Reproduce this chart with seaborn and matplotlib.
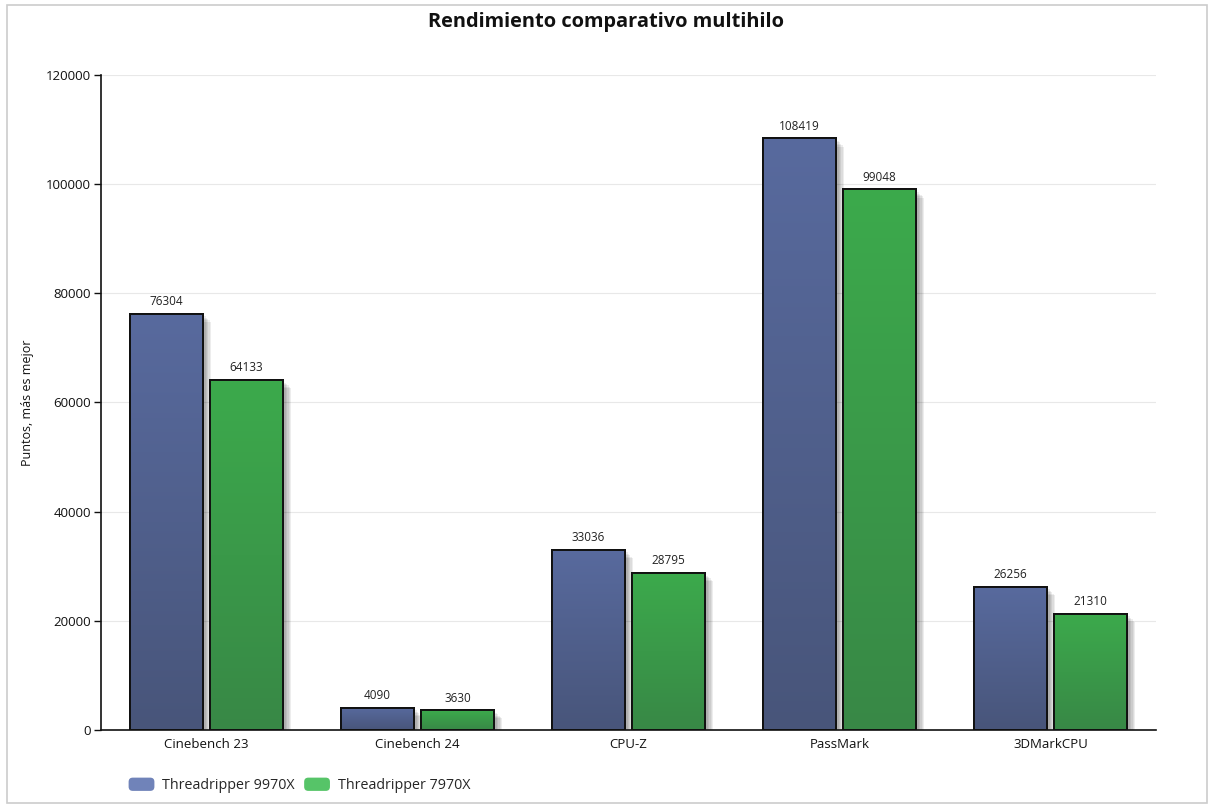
import numpy as np
import pandas as pd
import seaborn as sns
import matplotlib.pyplot as plt
import matplotlib.patheffects as pe
from matplotlib.colors import LinearSegmentedColormap
from matplotlib.patches import Rectangle, FancyBboxPatch
from matplotlib.legend_handler import HandlerPatch

# data
benchmarks = ["Cinebench 23", "Cinebench 24", "CPU-Z", "PassMark", "3DMarkCPU"]
tr_9970x = [76304, 4090, 33036, 108419, 26256]
tr_7970x = [64133, 3630, 28795, 99048, 21310]
series = ["Threadripper 9970X", "Threadripper 7970X"]
y_ticks = [0, 20000, 40000, 60000, 80000, 100000, 120000]

bar_colors = ["#52639a", "#3b9c4a"]
# (top, bottom) shade of each series
gradients = [("#586a9e", "#48557a"), ("#3caa4c", "#388846")]
legend_colors = ["#7083b9", "#56c468"]

df = pd.DataFrame({
    "benchmark": benchmarks * 2,
    "cpu": [series[0]] * len(benchmarks) + [series[1]] * len(benchmarks),
    "score": tr_9970x + tr_7970x,
})

sns.set_theme(style="white")
plt.rcParams['font.family'] = ['Open Sans', 'DejaVu Sans']

fig = plt.figure(figsize=(12.11, 8.10), dpi=100)
ax = fig.add_axes([0.0834, 0.0988, 0.8712, 0.8086])

sns.barplot(data=df, x="benchmark", y="score", hue="cpu", order=benchmarks,
            hue_order=series, palette=bar_colors, width=0.76, gap=0.09,
            edgecolor="#111111", linewidth=1.4, ax=ax, legend=False,
            saturation=1)

# soft drop shadow
shadow = [pe.SimplePatchShadow(offset=(d, -d), shadow_rgbFace="black", alpha=0.07)
          for d in (6, 5, 4, 3, 2)] + [pe.Normal()]

ax.set_ylim(0, 120000)
ax.set_xlim(-0.5, len(benchmarks) - 0.5)

grad = np.linspace(0, 1, 256).reshape(-1, 1)
for cont, (top, bottom) in zip(ax.containers, gradients):
    cmap = LinearSegmentedColormap.from_list("g", [bottom, top])
    for p in cont:
        p.set_path_effects(shadow)
        x0, y0 = p.get_x(), p.get_y()
        w, h = p.get_width(), p.get_height()
        im = ax.imshow(grad, cmap=cmap, aspect="auto", origin="lower",
                       extent=(x0, x0 + w, y0, y0 + h), zorder=p.get_zorder() + 0.1)
        im.set_clip_path(p)
        ax.add_patch(Rectangle((x0, y0), w, h, fill=False, edgecolor="#111111",
                               linewidth=1.4, zorder=p.get_zorder() + 0.2))
    ax.bar_label(cont, padding=4, fontsize=8.5, color="#222222")

ax.set_ylim(0, 120000)
ax.set_xlim(-0.5, len(benchmarks) - 0.5)
ax.set_yticks(y_ticks)
ax.set_yticklabels([str(t) for t in y_ticks], fontsize=9.5, color="#111111")
ax.tick_params(axis="y", length=5, width=1, color="#111111", left=True, pad=2)
ax.tick_params(axis="x", length=0, pad=6, labelsize=9.5, labelcolor="#111111")
ax.yaxis.grid(True, color="#e8e8e8", linewidth=0.8)
ax.set_axisbelow(True)
for s in ["top", "right"]:
    ax.spines[s].set_visible(False)
for s in ["left", "bottom"]:
    ax.spines[s].set_color("#111111")
    ax.spines[s].set_linewidth(1.2)
ax.spines["bottom"].set_zorder(5)
ax.set_xlabel("")
ax.set_ylabel("Puntos, más es mejor", fontsize=9, color="#111111", labelpad=9)

fig.suptitle("Rendimiento comparativo multihilo", x=0.5, y=0.985,
             fontsize=14.4, fontweight="bold", color="#111111")


# rounded legend swatches
class RoundHandler(HandlerPatch):
    def create_artists(self, legend, orig_handle, xdescent, ydescent,
                       width, height, fontsize, trans):
        box = FancyBboxPatch((-xdescent + 2, -ydescent + 1), width - 4, height - 2,
                             boxstyle="round,pad=1.5,rounding_size=3",
                             facecolor=orig_handle.get_facecolor(),
                             edgecolor="none", transform=trans)
        return [box]


handles = [Rectangle((0, 0), 1, 1, facecolor=c) for c in legend_colors]
fig.legend(handles, series, loc="center left", bbox_to_anchor=(0.095, 0.03),
           ncol=2, frameon=False, fontsize=10.3, handlelength=1.9,
           handleheight=0.9, columnspacing=0.6, handletextpad=0.5,
           handler_map={Rectangle: RoundHandler()})

# light frame around the chart
fig.patches.append(Rectangle((7 / 1211, 7 / 810), 1200 / 1211, 798 / 810,
                             transform=fig.transFigure, fill=False,
                             edgecolor="#cccccc", linewidth=1.2))

fig.savefig("out.png", dpi=100)
